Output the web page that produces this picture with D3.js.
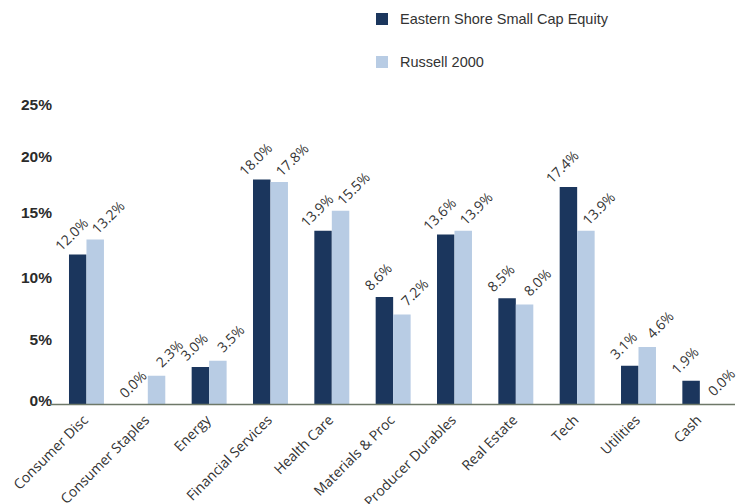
<!DOCTYPE html>
<html>
<head>
<meta charset="utf-8">
<script src="https://cdn.jsdelivr.net/npm/d3@7"></script>
<style>
  html, body { margin: 0; padding: 0; background: #fff; }
  svg { display: block; }
</style>
</head>
<body>
<div id="chartDiv"></div>
<script>
var categories = ["Consumer Disc", "Consumer Staples", "Energy", "Financial Services", "Health Care",
    "Materials & Proc", "Producer Durables", "Real Estate", "Tech", "Utilities", "Cash"];
var seriesNames = ["Eastern Shore Small Cap Equity", "Russell 2000"];
var easternShore = [12.0, 0.0, 3.0, 18.0, 13.9, 8.6, 13.6, 8.5, 17.4, 3.1, 1.9];
var russell2000 = [13.2, 2.3, 3.5, 17.8, 15.5, 7.2, 13.9, 8.0, 13.9, 4.6, 0.0];
var yTicks = [0, 5, 10, 15, 20, 25];

var colors = ["#1b365d", "#b8cce4"];
var swidth = 739, sheight = 504;
var baseY = 404.5;

var data = categories.map(function (c, i) {
    return { name: c, values: [easternShore[i], russell2000[i]] };
});

var svg = d3.select("#chartDiv")
    .append("svg")
    .attr("width", swidth)
    .attr("height", sheight);

var x0 = d3.scaleBand()
    .domain(categories)
    .range([55.8, 730.5])
    .paddingInner(0.43)
    .paddingOuter(0.215);

var x1 = d3.scaleBand()
    .domain([0, 1])
    .range([0, x0.bandwidth()]);

var y = d3.scaleLinear()
    .domain([0, 25])
    .range([baseY, baseY - 25 * 12.5]);

// tick labels in the source sit a little off the bar scale
var yLabel = d3.scaleLinear()
    .domain(yTicks)
    .range([401, 340, 278, 213, 157, 105]);

var yAxis = svg.append("g")
    .attr("transform", "translate(52,0)")
    .call(d3.axisLeft(yLabel).tickValues(yTicks).tickSize(0).tickPadding(0)
        .tickFormat(function (d) { return d + "%"; }));
yAxis.select(".domain").remove();
yAxis.selectAll("text")
    .attr("fill", "#2b2b2b")
    .style("font-family", "'Liberation Sans', Arial, sans-serif")
    .style("font-weight", "bold")
    .style("font-size", "15.5px");

var groups = svg.selectAll(".grp")
    .data(data)
    .enter().append("g")
    .attr("class", "grp")
    .attr("transform", function (d) { return "translate(" + x0(d.name) + ",0)"; });

groups.selectAll("rect")
    .data(function (d) { return d.values; })
    .enter().append("rect")
    .attr("x", function (d, i) { return x1(i); })
    .attr("y", function (d) { return y(d); })
    .attr("width", x1.bandwidth())
    .attr("height", function (d) { return baseY - y(d); })
    .attr("fill", function (d, i) { return colors[i]; });

var labelOff = [[-6, -20], [13, -22]];
groups.selectAll(".val")
    .data(function (d) { return d.values; })
    .enter().append("text")
    .attr("class", "val")
    .attr("transform", function (d, i) {
        var cx = x1(i) + x1.bandwidth() / 2 + labelOff[i][0];
        var cy = y(d) + labelOff[i][1];
        return "translate(" + cx + "," + cy + ")rotate(-45)";
    })
    .attr("text-anchor", "middle")
    .attr("dy", "0.35em")
    .attr("fill", "#333")
    .style("font-family", "'Open Sans', sans-serif")
    .style("font-size", "14px")
    .text(function (d) { return d.toFixed(1) + "%"; });

var xAxis = svg.append("g")
    .attr("transform", "translate(0," + baseY + ")")
    .call(d3.axisBottom(x0).tickSize(0).tickPadding(0));
xAxis.select(".domain").remove();
xAxis.selectAll("text")
    .attr("transform", "translate(-1,13)rotate(-45)")
    .attr("y", 0)
    .attr("dy", "0.35em")
    .style("text-anchor", "end")
    .attr("fill", "#333")
    .style("font-family", "'Open Sans', sans-serif")
    .style("font-size", "14px");

svg.append("line")
    .attr("x1", 50)
    .attr("x2", 735)
    .attr("y1", baseY)
    .attr("y2", baseY)
    .attr("stroke", "#6e7868")
    .attr("stroke-width", 1.5);

var legend = svg.selectAll(".legend")
    .data(seriesNames)
    .enter().append("g")
    .attr("class", "legend")
    .attr("transform", function (d, i) { return "translate(376," + (13 + i * 43) + ")"; });

legend.append("rect")
    .attr("width", 12)
    .attr("height", 12)
    .attr("fill", function (d, i) { return colors[i]; });

legend.append("text")
    .attr("x", 24)
    .attr("y", 6)
    .attr("dy", "0.35em")
    .attr("fill", "#333")
    .style("font-family", "'Liberation Sans', Arial, sans-serif")
    .style("font-size", "14.5px")
    .text(function (d) { return d; });
</script>
</body>
</html>
